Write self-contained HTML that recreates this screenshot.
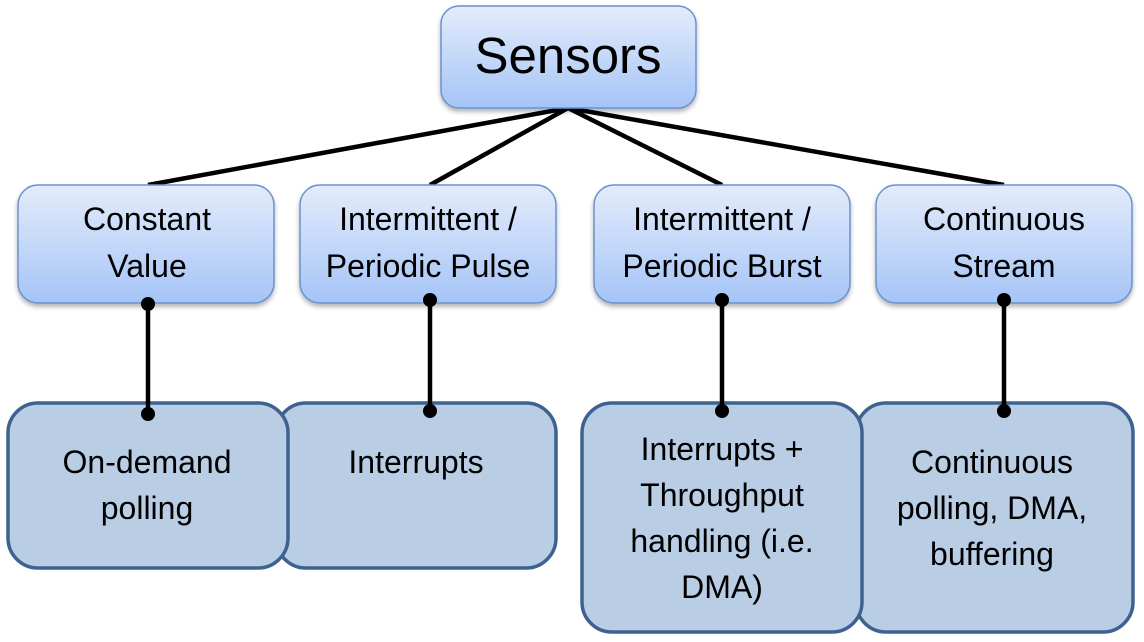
<!DOCTYPE html>
<html><head><meta charset="utf-8"><style>body{margin:0;background:#fff}svg{display:block}text{font-family:"Liberation Sans",Carlito,sans-serif;fill:#000}</style></head><body>
<svg width="1144" height="642" viewBox="0 0 1144 642">
<defs>
<linearGradient id="g" x1="0" y1="0" x2="0" y2="1"><stop offset="0" stop-color="#e3ecfb"/><stop offset="1" stop-color="#a5c4f7"/></linearGradient>
<filter id="s" x="-10%" y="-10%" width="120%" height="130%"><feDropShadow dx="0" dy="3" stdDeviation="2.5" flood-color="#000" flood-opacity="0.3"/></filter>
</defs>
<g stroke="#000" stroke-width="4.5" fill="none">
<line x1="568" y1="108" x2="148" y2="185"/><line x1="568" y1="108" x2="430" y2="185"/>
<line x1="568" y1="108" x2="722" y2="185"/><line x1="568" y1="108" x2="1004" y2="185"/>
</g>
<g fill="url(#g)" stroke="#6a92cc" stroke-width="1.5" filter="url(#s)">
<rect x="441" y="6" width="255" height="102" rx="18"/>
<rect x="18" y="185" width="256" height="118" rx="20"/>
<rect x="300" y="185" width="256" height="118" rx="20"/>
<rect x="594" y="185" width="256" height="118" rx="20"/>
<rect x="876" y="185" width="256" height="118" rx="20"/>
</g>
<g fill="#b9cde5" stroke="#3e6290" stroke-width="3.5">
<rect x="276" y="403" width="280" height="165" rx="30"/>
<rect x="8" y="403" width="280" height="165" rx="30"/>
<rect x="856" y="403" width="277" height="229" rx="30"/>
<rect x="582" y="403" width="280" height="229" rx="30"/>
</g>
<g stroke="#000" stroke-width="4.5">
<line x1="148" y1="303" x2="148" y2="414"/><line x1="430" y1="300" x2="430" y2="411"/>
<line x1="722" y1="300" x2="722" y2="411"/><line x1="1004" y1="300" x2="1004" y2="411"/>
</g>
<g fill="#000">
<circle cx="148" cy="304" r="7"/><circle cx="148" cy="414" r="7"/>
<circle cx="430" cy="300" r="7"/><circle cx="430" cy="411" r="7"/>
<circle cx="722" cy="300" r="7"/><circle cx="722" cy="411" r="7"/>
<circle cx="1004" cy="300" r="7"/><circle cx="1004" cy="411" r="7"/>
</g>
<g text-anchor="middle" font-size="32">
<text x="568" y="73" font-size="51">Sensors</text>
<text x="147" y="230">Constant</text><text x="147" y="277">Value</text>
<text x="428" y="230">Intermittent /</text><text x="428" y="277">Periodic Pulse</text>
<text x="722" y="230">Intermittent /</text><text x="722" y="277">Periodic Burst</text>
<text x="1004" y="230">Continuous</text><text x="1004" y="277">Stream</text>
<text x="147" y="473">On-demand</text><text x="147" y="519">polling</text>
<text x="416" y="473">Interrupts</text>
<text x="722" y="460">Interrupts +</text><text x="722" y="506">Throughput</text><text x="722" y="552">handling (i.e.</text><text x="722" y="598">DMA)</text>
<text x="992" y="473">Continuous</text><text x="992" y="519">polling, DMA,</text><text x="992" y="565">buffering</text>
</g>
</svg>
</body></html>
